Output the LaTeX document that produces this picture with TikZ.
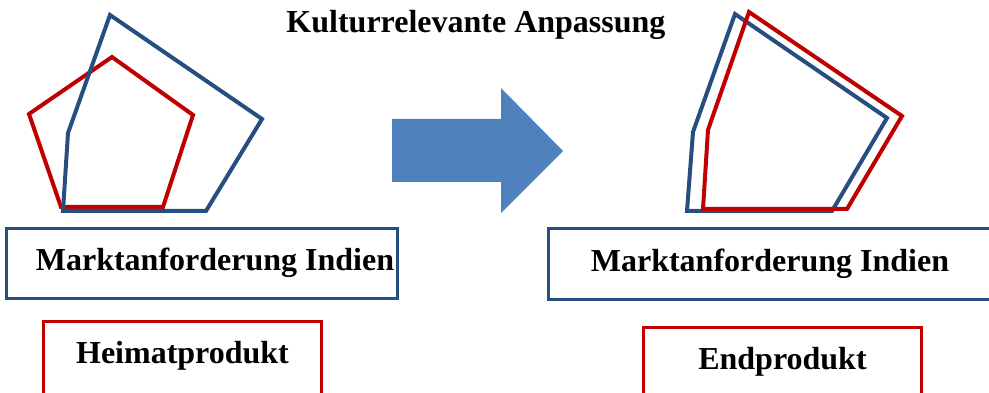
\documentclass[tikz,border=0pt]{standalone}
\usepackage{fontspec}
\setmainfont{Liberation Serif}
\usetikzlibrary{positioning}
\definecolor{marktblau}{RGB}{38,78,128}
\definecolor{heimatrot}{RGB}{192,0,0}
\definecolor{pfeilblau}{RGB}{79,129,189}
\tikzset{
  markt/.style={draw=marktblau, line width=3pt, inner sep=0pt,
    font=\fontsize{32}{38}\selectfont\bfseries, text height=21pt, text depth=7pt},
  produkt/.style={draw=heimatrot, line width=3pt, inner sep=0pt,
    font=\fontsize{32}{38}\selectfont\bfseries, text height=21pt, text depth=13pt},
  vieleck/.style={line width=4pt, line join=miter}
}

\begin{document}
\begin{tikzpicture}[x=1pt,y=-1pt]
\useasboundingbox (0,0) rectangle (989,393);
\clip (0,0) rectangle (989,393);
% Titel
\node[anchor=base, font=\fontsize{32}{38}\selectfont\bfseries] (titel) at (476,33) {Kulturrelevante Anpassung};
% linke Seite
\draw[vieleck, heimatrot] (112,57) -- (193,115) -- (163,207) -- (61,207) -- (29,114) -- cycle;
\draw[vieleck, marktblau] (110,15) -- (262,119) -- (206,211) -- (63,211) -- (68,133) -- cycle;
\node[markt, minimum width=391pt, minimum height=69pt] (markt_l) at (202,263.5) {\hspace*{26pt}Marktanforderung Indien};
\node[produkt, minimum width=278pt, minimum height=76pt] (heimat) at (182.5,359.5) {Heimatprodukt};
% Pfeil
\fill[pfeilblau] (392,119) -- (501,119) -- (501,88) -- (563,151) -- (501,213) -- (501,182) -- (392,182) -- cycle;
% rechte Seite
\draw[vieleck, marktblau] (735,14) -- (887,118) -- (832,211) -- (687,211) -- (693,132) -- cycle;
\draw[vieleck, heimatrot] (749,12) -- (902,116) -- (847,209) -- (703,209) -- (708,130) -- cycle;
\node[markt, minimum width=444pt, minimum height=71pt] (markt_r) at (770,264) {Marktanforderung Indien};
\node[produkt, minimum width=278pt, minimum height=76pt] (end) at (782.5,365.5) {Endprodukt};
\end{tikzpicture}
\end{document}
